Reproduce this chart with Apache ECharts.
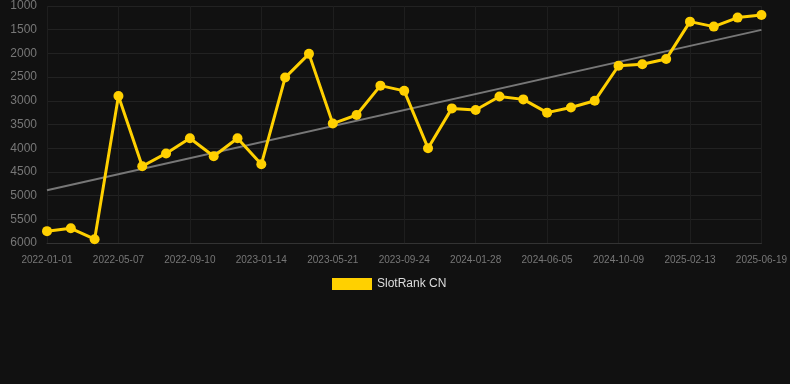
<!DOCTYPE html>
<html><head><meta charset="utf-8">
<script src="https://cdn.jsdelivr.net/npm/echarts@6/dist/echarts.min.js"></script>
<style>html,body{margin:0;padding:0;background:#111111;}#c{width:790px;height:384px;}</style>
</head><body><div id="c"></div>
<script>
const dates = ['2022-01-01','2022-02-12','2022-03-26','2022-05-07','2022-06-18','2022-07-30','2022-09-10','2022-10-22','2022-12-03','2023-01-14','2023-02-25','2023-04-08','2023-05-21','2023-07-02','2023-08-13','2023-09-24','2023-11-05','2023-12-17','2024-01-28','2024-03-10','2024-04-23','2024-06-05','2024-07-17','2024-08-28','2024-10-09','2024-11-20','2025-01-01','2025-02-13','2025-03-27','2025-05-08','2025-06-19'];
const rankCN = [5750,5690,5920,2900,4380,4110,3790,4170,3790,4340,2510,2010,3480,3300,2680,2790,4000,3160,3195,2910,2970,3250,3140,3000,2260,2230,2120,1330,1435,1245,1190];
const seriesName = 'SlotRank CN';

// linear regression trend
const n = rankCN.length;
let sx=0, sy=0, sxy=0, sxx=0;
rankCN.forEach((v,i)=>{sx+=i; sy+=v; sxy+=i*v; sxx+=i*i;});
const slope = (n*sxy - sx*sy)/(n*sxx - sx*sx);
const icpt = (sy - slope*sx)/n;
const trend = rankCN.map((v,i)=> (i===0||i===n-1) ? +(icpt+slope*i).toFixed(1) : null);

const chart = echarts.init(document.getElementById('c'));
chart.setOption({
  backgroundColor:'#111111',
  animation:false,
  grid:{left:47,right:28,top:6,bottom:141},
  legend:{data:[seriesName],top:278,left:332,itemWidth:40,itemHeight:12,icon:'rect',padding:0,
    textStyle:{color:'#dddddd',fontSize:12,fontFamily:'Arial, Liberation Sans, sans-serif'}},
  xAxis:{type:'category',data:dates,boundaryGap:false,
    axisLine:{lineStyle:{color:'#333333'}},axisTick:{show:false},
    axisLabel:{color:'#777777',fontSize:10,interval:2,margin:12,fontFamily:'Arial, Liberation Sans, sans-serif'},
    splitLine:{show:true,interval:2,lineStyle:{color:'#1e1e1e'}}},
  yAxis:{type:'value',inverse:true,min:1000,max:6000,interval:500,
    axisLine:{show:false},axisTick:{show:false},
    axisLabel:{color:'#777777',fontSize:12,margin:10,formatter:v=>String(v),fontFamily:'Arial, Liberation Sans, sans-serif'},
    splitLine:{lineStyle:{color:'#222222'}}},
  series:[
    {name:'trend',type:'line',data:trend,connectNulls:true,symbol:'none',silent:true,
     lineStyle:{color:'#777777',width:2},z:1},
    {name:seriesName,type:'line',data:rankCN,symbol:'circle',symbolSize:10,
     itemStyle:{color:'#FFD000'},lineStyle:{color:'#FFD000',width:3},z:2}
  ]
});
</script></body></html>
